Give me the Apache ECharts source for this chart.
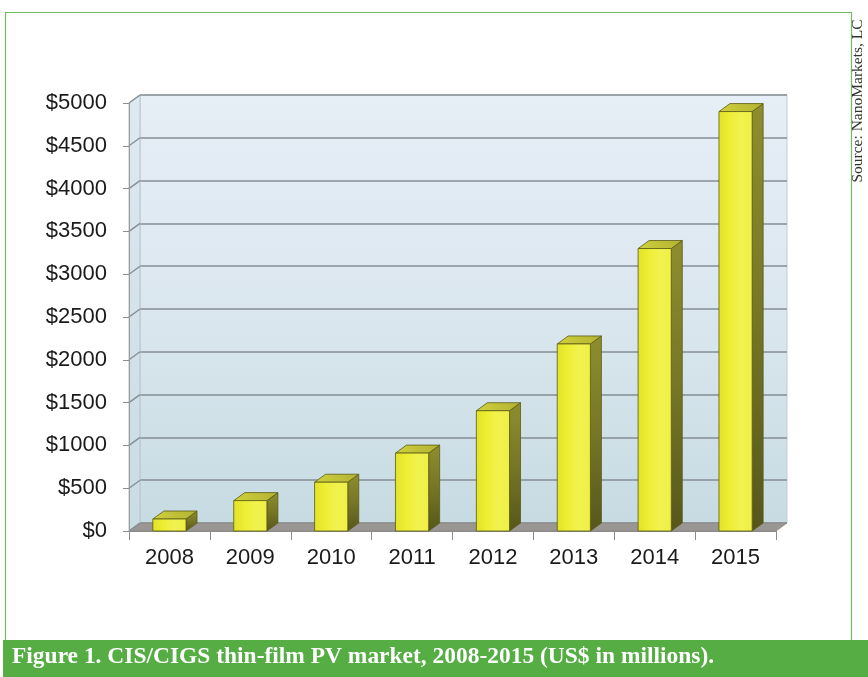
<!DOCTYPE html>
<html><head><meta charset="utf-8">
<script src="https://cdn.jsdelivr.net/npm/echarts@6/dist/echarts.min.js"></script>
<style>html,body{margin:0;padding:0;background:#fff}#c{width:868px;height:677px}</style>
</head><body><div id="c"></div>
<script>
// ---- data ----
const categories = ['2008', '2009', '2010', '2011', '2012', '2013', '2014', '2015'];
const marketValues = [140, 355, 570, 910, 1405, 2185, 3300, 4900];
const yTickValues = [0, 500, 1000, 1500, 2000, 2500, 3000, 3500, 4000, 4500, 5000];
const yTickPrefix = '$';
const captionText = 'Figure 1. CIS/CIGS thin-film PV market, 2008-2015 (US$ in millions).';
const sourceText = 'Source: NanoMarkets, LC';

// ---- layout / style ----
const DX = 11, DY = -8;               // depth offset of the 3D box
const FRONT = {left: 129, right: 92, top: 103, bottom: 146};
const BACK = {left: FRONT.left + DX, right: FRONT.right - DX, top: FRONT.top + DY, bottom: FRONT.bottom - DY};
const SANS = '"Liberation Sans Narrow", "Arial Narrow", "Liberation Sans", Arial, sans-serif';
const SERIF = '"Liberation Serif", "Times New Roman", serif';

const chart = echarts.init(document.getElementById('c'), null, {renderer: 'canvas'});

function lg(x1, y1, x2, y2, stops) {
  return new echarts.graphic.LinearGradient(x1, y1, x2, y2, stops.map((c, i) => ({offset: i / (stops.length - 1), color: c})));
}

const barData = marketValues.map((v, i) => [i, v]);

const option = {
  backgroundColor: '#ffffff',
  animation: false,
  grid: [
    {left: FRONT.left, right: FRONT.right, top: FRONT.top, bottom: FRONT.bottom, containLabel: false, outerBoundsMode: 'none'},
    {left: BACK.left, right: BACK.right, top: BACK.top, bottom: BACK.bottom, containLabel: false, outerBoundsMode: 'none',
     show: true, z: 0, borderColor: '#c3ccd2', borderWidth: 1,
     backgroundColor: lg(0, 0, 0, 1, ['#e6eef6', '#dbe7ef', '#c7dbe2'])}
  ],
  xAxis: [
    {type: 'category', gridIndex: 0, data: categories, boundaryGap: true, z: 3,
     axisLine: {show: true, lineStyle: {color: '#8c8c8c', width: 1}},
     axisTick: {show: true, length: 9, lineStyle: {color: '#8c8c8c', width: 1}},
     axisLabel: {fontFamily: SANS, fontSize: 22, color: '#1a1a1a', margin: 16},
     splitLine: {show: false}},
    {type: 'category', gridIndex: 1, data: categories, show: false}
  ],
  yAxis: [
    {type: 'value', gridIndex: 0, min: 0, max: 5000, interval: 500, z: 3,
     axisLine: {show: true, lineStyle: {color: '#9a9a9a', width: 1}},
     axisTick: {show: true, length: 6, lineStyle: {color: '#8c8c8c', width: 1}},
     axisLabel: {fontFamily: SANS, fontSize: 22, color: '#1a1a1a', margin: 22,
                 formatter: v => yTickPrefix + v},
     splitLine: {show: false}},
    {type: 'value', gridIndex: 1, min: 0, max: 5000, interval: 500, z: 1,
     axisLine: {show: false}, axisTick: {show: false}, axisLabel: {show: false},
     splitLine: {show: true, lineStyle: {color: '#858e93', width: 1.7}}}
  ],
  series: [
    // left wall + floor
    {type: 'custom', xAxisIndex: 0, yAxisIndex: 0, z: 2, silent: true,
     data: [[0, 0]],
     renderItem: function (params, api) {
       const cs = params.coordSys;
       const xl = cs.x, xr = cs.x + cs.width, yt = cs.y, yb = cs.y + cs.height;
       return {type: 'group', children: [
         {type: 'polygon', shape: {points: [[xl, yt], [xl + DX, yt + DY], [xl + DX, yb + DY], [xl, yb]]},
          style: {fill: lg(0, 0, 0, 1, ['#dfe9f2', '#c9dbe3']), stroke: '#b9c3c8', lineWidth: 1}},
         {type: 'polygon', shape: {points: [[xl, yb], [xl + DX, yb + DY], [xr + DX, yb + DY], [xr, yb]]},
          style: {fill: '#9a9693', stroke: '#8a8683', lineWidth: 0.8}}
       ]};
     }},
    // connectors from the front axis ticks to the back-wall grid lines
    {type: 'custom', xAxisIndex: 0, yAxisIndex: 0, z: 2, silent: true,
     data: yTickValues.map(v => [0, v]),
     renderItem: function (params, api) {
       const cs = params.coordSys;
       const p = api.coord([0, api.value(1)]);
       const x0 = cs.x;
       return {type: 'line', shape: {x1: x0, y1: p[1], x2: x0 + DX, y2: p[1] + DY},
               style: {stroke: '#858e93', lineWidth: 1.4}};
     }},
    // 3D bars
    {type: 'custom', name: 'Market', xAxisIndex: 0, yAxisIndex: 0, z: 5,
     data: barData, encode: {x: 0, y: 1},
     renderItem: function (params, api) {
       const idx = api.value(0), v = api.value(1);
       const top = api.coord([idx, v]);
       const bot = api.coord([idx, 0]);
       const bw = api.size([1, 0])[0] * 0.41;
       const x1 = top[0] - bw / 2, x2 = top[0] + bw / 2;
       const yt = top[1], yb = bot[1];
       const stroke = '#5a5a14';
       return {type: 'group', children: [
         {type: 'polygon', shape: {points: [[x2, yt], [x2 + DX, yt + DY], [x2 + DX, yb + DY], [x2, yb]]},
          style: {fill: lg(0, 0, 0, 1, ['#8e8e2e', '#767626', '#56561c']), stroke: stroke, lineWidth: 0.8}},
         {type: 'polygon', shape: {points: [[x1, yt], [x1 + DX, yt + DY], [x2 + DX, yt + DY], [x2, yt]]},
          style: {fill: lg(0, 1, 1, 0, ['#d0d03e', '#b2b232']), stroke: stroke, lineWidth: 0.8}},
         {type: 'rect', shape: {x: x1, y: yt, width: bw, height: yb - yt},
          style: {fill: lg(0, 0, 1, 0, ['#e2e22a', '#eeee34', '#f2f250', '#efef45']), stroke: stroke, lineWidth: 0.8}}
       ]};
     }}
  ],
  graphic: [
    {type: 'rect', z: 10, silent: true,
     shape: {x: 5.5, y: 12.5, width: 846, height: 640},
     style: {fill: 'none', stroke: '#6cbf5c', lineWidth: 1.2}},
    {type: 'rect', z: 11, silent: true,
     shape: {x: 3, y: 640, width: 865, height: 37},
     style: {fill: '#55ad44'}},
    {type: 'text', z: 12, silent: true, x: 12, y: 669, scaleX: 1.02,
     style: {text: captionText, fill: '#ffffff', font: 'bold 23px ' + SERIF, verticalAlign: 'bottom'}},
    {type: 'text', z: 12, silent: true, x: 858, y: 101, rotation: Math.PI / 2,
     style: {text: sourceText, fill: '#333333', font: '15.5px ' + SERIF, align: 'center', verticalAlign: 'middle'}}
  ]
};
chart.setOption(option);
</script>
</body></html>
